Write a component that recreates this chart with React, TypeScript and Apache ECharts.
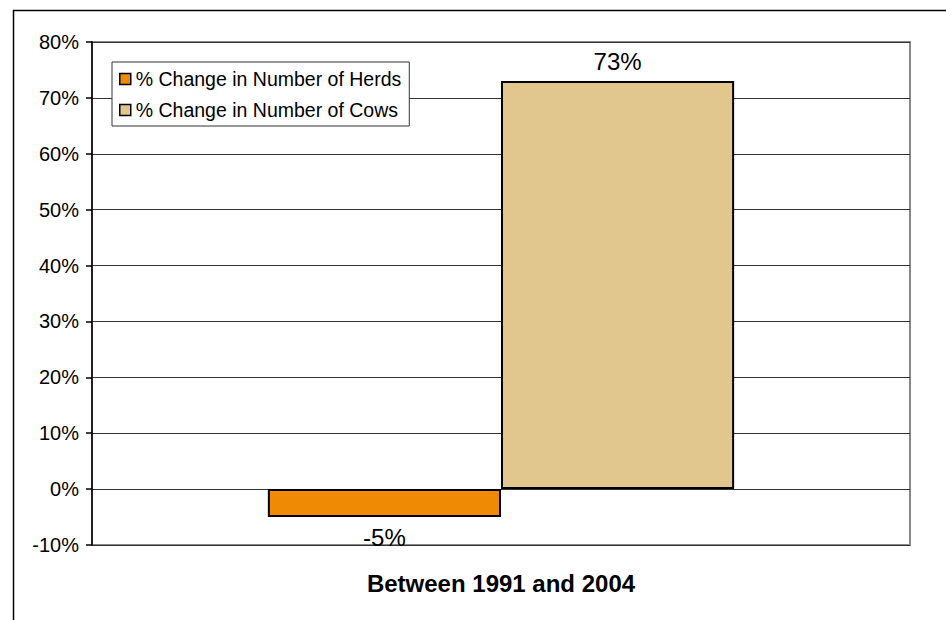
import React, { useEffect, useRef } from "react";
import * as echarts from "echarts";

// Percentage change between 1991 and 2004
const categories = ["Between 1991 and 2004"];
const seriesNames = ["% Change in Number of Herds", "% Change in Number of Cows"];
const herdsChange = [-5];
const cowsChange = [73];
const seriesColors = ["#EE8A04", "#E1C68E"];

const FONT = "'Liberation Sans', Arial, Helvetica, sans-serif";

export default function App() {
  const ref = useRef<HTMLDivElement>(null);

  useEffect(() => {
    if (!ref.current) return;
    const chart = echarts.init(ref.current, null, { renderer: "svg" });

    const makeSeries = (name: string, data: number[], color: string, pos: string) => ({
      name,
      type: "bar",
      data,
      barGap: "0%",
      barCategoryGap: "43%",
      itemStyle: { color, borderColor: "#000", borderWidth: 2 },
      label: {
        show: true,
        position: pos,
        distance: 8,
        formatter: (p: any) => `${p.value}%`,
        fontFamily: FONT,
        fontSize: 24,
        color: "#000",
      },
    });

    chart.setOption({
      animation: false,
      backgroundColor: "#fff",
      textStyle: { fontFamily: FONT },
      graphic: [
        {
          type: "rect",
          shape: { x: 13.5, y: 10.5, width: 1000, height: 700 },
          style: { fill: "none", stroke: "#000", lineWidth: 1.5 },
          silent: true,
          z: -10,
        },
      ],
      grid: {
        left: 92,
        top: 42,
        right: 36,
        bottom: 75,
        show: true,
        borderColor: "#888",
        borderWidth: 2,
        containLabel: false,
      },
      legend: {
        left: 112,
        top: 62,
        orient: "vertical",
        backgroundColor: "#fff",
        borderColor: "#333",
        borderWidth: 1,
        padding: [7, 8, 6, 7],
        itemWidth: 11,
        itemHeight: 11,
        itemGap: 11,
        icon: "rect",
        itemStyle: { borderColor: "#000", borderWidth: 1.5 },
        textStyle: { fontFamily: FONT, fontSize: 19.5, color: "#000", lineHeight: 20 },
        data: seriesNames,
      },
      xAxis: {
        type: "category",
        data: categories,
        axisLine: { show: false },
        axisTick: { show: false },
        axisLabel: {
          margin: 26,
          fontFamily: FONT,
          fontSize: 24,
          fontWeight: "bold",
          color: "#000",
        },
      },
      yAxis: {
        type: "value",
        min: -10,
        max: 80,
        interval: 10,
        axisLine: { show: true, lineStyle: { color: "#000", width: 1.5 } },
        axisTick: { show: true, length: 6, lineStyle: { color: "#000", width: 1.5 } },
        axisLabel: {
          margin: 13,
          formatter: "{value}%",
          fontFamily: FONT,
          fontSize: 20,
          color: "#000",
        },
        splitLine: { show: true, lineStyle: { color: "#333", width: 1 } },
      },
      series: [
        makeSeries(seriesNames[0], herdsChange, seriesColors[0], "bottom"),
        makeSeries(seriesNames[1], cowsChange, seriesColors[1], "top"),
      ],
    });

    return () => chart.dispose();
  }, []);

  return (
    <div
      ref={ref}
      style={{ position: "absolute", left: 0, top: 0, width: 946, height: 620 }}
    />
  );
}
